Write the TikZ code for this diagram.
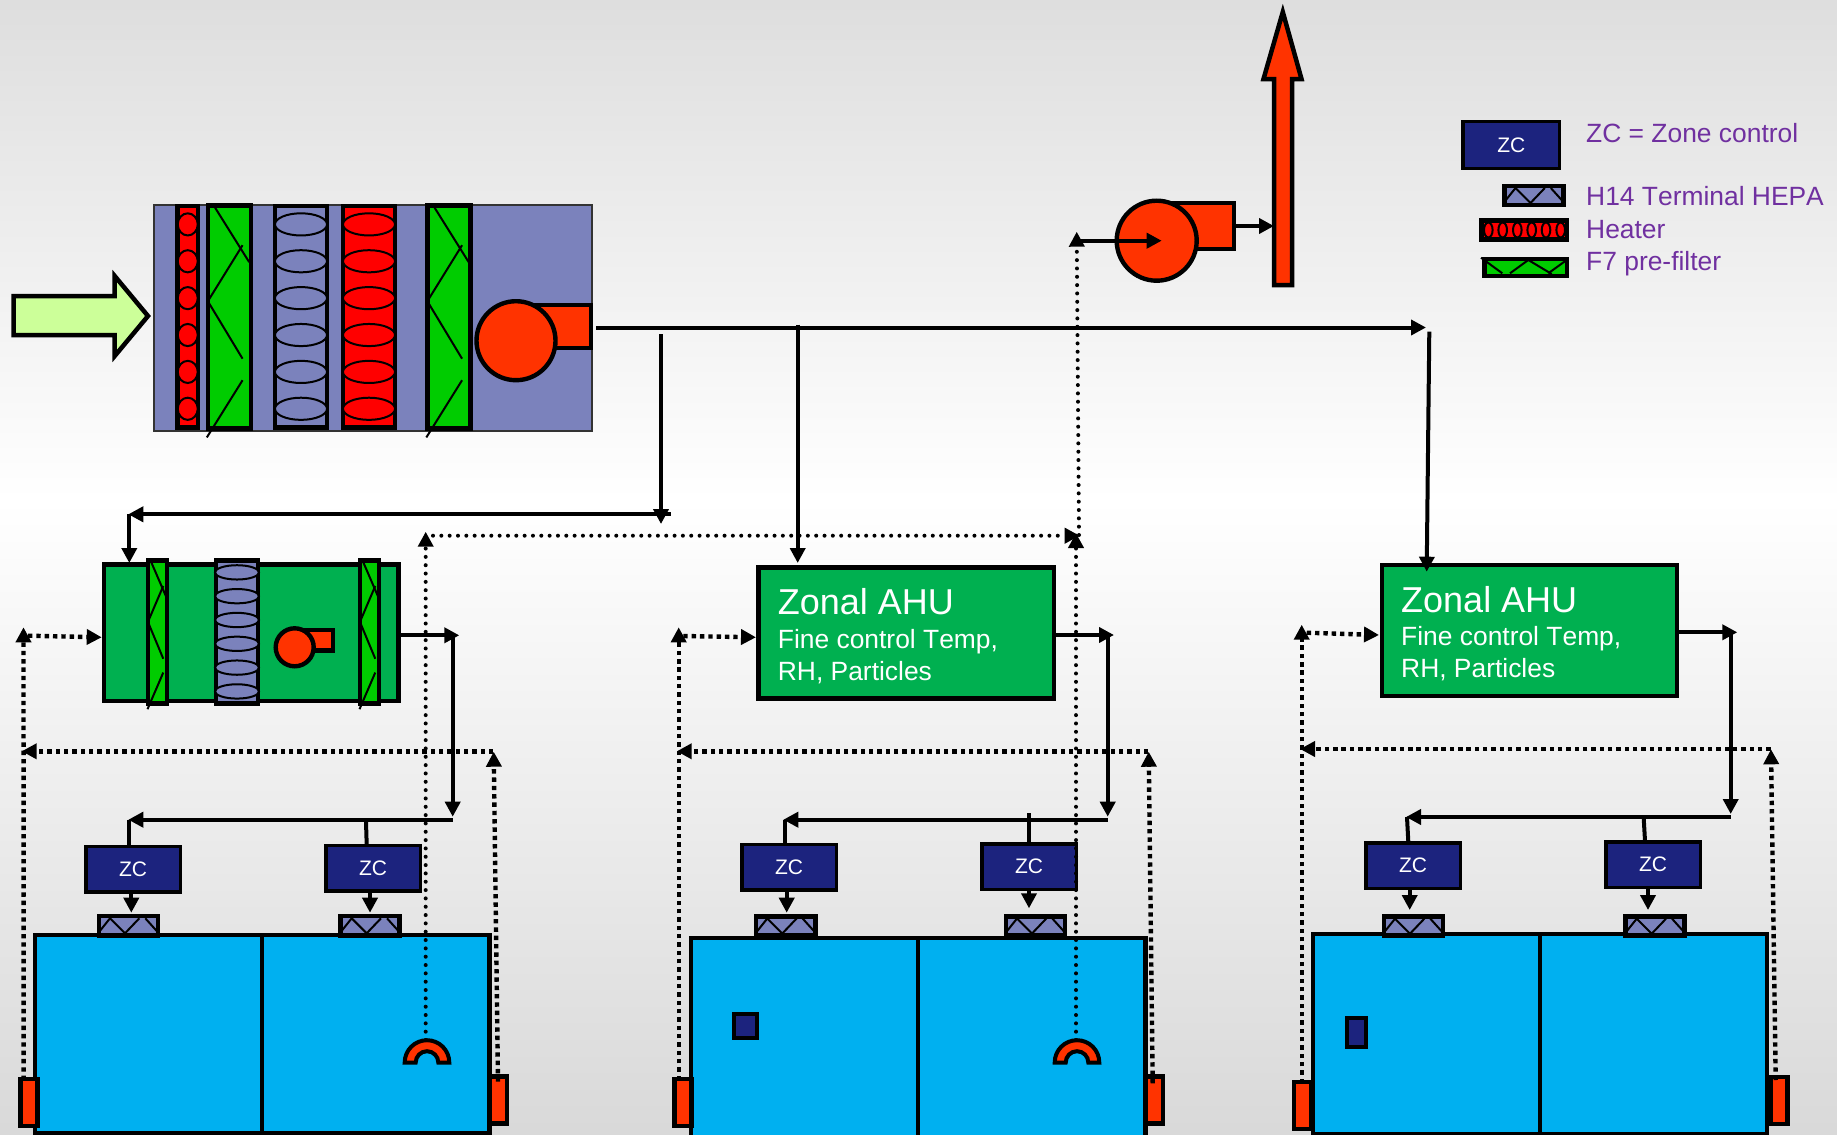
\documentclass[tikz,border=0pt]{standalone}
\usepackage{fontspec}
\setmainfont{Liberation Sans}[Kerning=Off]
\usepackage{xcolor}
\usetikzlibrary{arrows.meta,positioning,calc}

\definecolor{coilblue}{HTML}{7B82BC}
\definecolor{ahugreen}{HTML}{00B050}
\definecolor{filtgreen}{HTML}{00CC00}
\definecolor{roomblue}{HTML}{00B0F0}
\definecolor{fanred}{HTML}{FF3300}
\definecolor{zcnavy}{HTML}{1C237E}
\definecolor{inletgreen}{HTML}{CCFF99}
\definecolor{lgndpurple}{HTML}{7030A0}

% bank with zigzag pleats: x, y, width, height
\newcommand{\filterbank}[4]{%
  \begin{scope}[shift={(#1,#2)}]
    \draw[unit,fill=filtgreen] (0,0) rectangle (#3,#4);
    \begin{scope}[xscale=#3/44.3,yscale=#4/224.6]
      \draw[pleat] (5.9,0)--(42.4,57);
      \draw[pleat] (35.6,40)--(1.2,94.3);
      \draw[pleat] (1.2,98.6)--(35.6,154.3);
      \draw[pleat] (35.6,176)--(-1.2,233.6);
    \end{scope}
  \end{scope}}
% bank with six ellipses: x, y, width, height, fill, x radius
\newcommand{\coilbank}[6]{%
  \begin{scope}[shift={(#1,#2)}]
    \draw[unit,fill=#5] (0,0) rectangle (#3,#4);
    \foreach \i in {0,...,5}
      \draw[coilring,fill=#5] ({#3/2},{#4*(.083+.1665*\i)}) ellipse [x radius=#6,y radius={#4*.05}];
  \end{scope}}
% terminal filter: x, y of its top left corner
\newcommand{\hepaunit}[2]{%
  \begin{scope}[shift={(#1,#2)}]
    \draw[unit,fill=coilblue] (1.8,1.8) rectangle (61,21);
    \draw[pleat] (2.3,17.4)--(13,4)--(28,19)--(42.3,4);
    \draw[pleat] (48.3,4)--(60.3,17.3);
  \end{scope}}
% half ring sensor: centre x, base y
\newcommand{\halfring}[2]{%
  \draw[unit,fill=fanred,line width=4pt] (#1-22.3,#2)
    arc[start angle=180,end angle=0,radius=22.3pt]
    -- ++(-11,0) arc[start angle=0,end angle=180,radius=11.3pt] -- cycle;}
% zonal unit: name, x, y of its top left corner
\newcommand{\zonalahu}[3]{%
  \node[ahubox,anchor=north west] (#1) at (#2,#3) {};
  \node[ahuhead] (#1a) at ($(#2,#3)+(21.5,49.7)$) {Zonal AHU};
  \node[ahusub] (#1b) at ($(#2,#3)+(21.5,83.4)$) {Fine control Temp,};
  \node[ahusub] (#1c) at ($(#2,#3)+(21.5,115.4)$) {RH, Particles};}

\begin{document}
\begin{tikzpicture}[x=1pt,y=-1pt,
    unit/.style={draw=black,line width=4.5pt,line join=miter},
    pleat/.style={draw=black,line width=2pt},
    coilring/.style={draw=black,line width=2pt},
    pipeend/.style={line width=4pt},
    pipe/.style={pipeend,-{Triangle[length=15pt,width=15pt]}},
    sqdots/.style={line width=4.4pt,dash pattern=on 4.4pt off 3.93pt,-{Triangle[length=15pt,width=15pt]}},
    rounddots/.style={line width=4pt,line cap=round,dash pattern=on 0pt off 8.33pt,-{Triangle[length=15pt,width=15pt]}},
    zcbox/.style={draw=black,fill=zcnavy,line width=3.5pt,text=white,inner sep=0pt,
      minimum width=94.5pt,minimum height=45.5pt,font=\fontsize{21}{24}\selectfont},
    hall/.style={draw=black,fill=roomblue,line width=4.2pt,inner sep=0pt,anchor=north west},
    damper/.style={draw=black,fill=fanred,line width=4.2pt,inner sep=0pt,minimum width=17pt,minimum height=47pt},
    fanwheel/.style={circle,draw=black,fill=fanred,line width=4.4pt,inner sep=0pt},
    fanbody/.style={draw=black,fill=fanred,line width=4.4pt,inner sep=0pt},
    sensor/.style={draw=black,fill=zcnavy,line width=4pt,inner sep=0pt},
    ahubox/.style={draw=black,fill=ahugreen,line width=4.4pt,inner sep=0pt,minimum width=295.5pt,minimum height=131pt},
    ahuhead/.style={anchor=base west,inner sep=0pt,text=white,font=\fontsize{36}{40}\selectfont},
    ahusub/.style={anchor=base west,inner sep=0pt,text=white,font=\fontsize{26.4}{30}\selectfont},
    lgnd/.style={anchor=base west,inner sep=0pt,text=lgndpurple,font=\fontsize{26.4}{30}\selectfont}]
  \useasboundingbox (0,0) rectangle (1837,1135);
  \clip (0,0) rectangle (1837,1135);
  % page shading
  \shade[top color=black!13,bottom color=white] (0,0) rectangle (1837,500);
  \shade[top color=white,middle color=black!4,bottom color=black!15] (0,500) rectangle (1837,1135);

  % main supply unit
  \draw[fill=coilblue,draw=black!80,line width=2pt] (153.5,205) rectangle (592,431);
  \draw[unit,fill=inletgreen] (13.5,296)--(114.7,296)--(114.7,276)--(148,316)--(114.7,356)--(114.7,335)--(13.5,335)--cycle;
  \coilbank{177.5}{206}{20.5}{221.5}{red}{10}
  \filterbank{208}{205.5}{43}{223}
  \coilbank{275}{206}{52}{221.5}{coilblue}{26}
  \coilbank{343}{206}{52}{221.5}{red}{26}
  \filterbank{427.5}{205.5}{43}{223}
  \node[fanbody,minimum width=62pt,minimum height=43pt] (supplybox) at (560,326.5) {};
  \node[fanwheel,minimum size=79pt] (supplyfan) at (516,340.7) {};

  % exhaust
  \draw[unit,fill=fanred] (1274,285)--(1274,79)--(1263.5,79)--(1282.8,12)--(1301.5,79)--(1292,79)--(1292,285)--cycle;
  \node[fanbody,minimum width=66pt,minimum height=46pt] (exhaustbox) at (1201,226) {};
  \node[fanwheel,minimum size=80pt] (exhaustfan) at (1156.7,240.7) {};
  \coordinate (stackin) at (1274,226);
  \draw[pipe] (exhaustbox.east)--(stackin);

  % legend
  \node[zcbox,minimum width=96.5pt,minimum height=47pt] (lgndzc) at (1511.3,145) {ZC};
  \node[lgnd] (lgndzctxt) at (1586,142.5) {ZC = Zone control};
  \hepaunit{1502.5}{184}
  \node[lgnd] (lgndhepa) at (1586,205.5) {H14 Terminal HEPA};
  \draw[unit,fill=red,line width=4.6pt] (1481.5,220.5) rectangle (1567,239.5);
  \foreach \cx in {1488.3,1502.7,1517.3,1531.7,1546,1560.7}
    \draw[coilring,fill=red] (\cx,230) ellipse [x radius=4.3,y radius=7.5];
  \node[lgnd] (lgndheat) at (1586,238.2) {Heater};
  \draw[unit,fill=filtgreen] (1484.5,258.8) rectangle (1567,276.2);
  \draw[pleat] (1481,257.7)--(1502.3,273.3);
  \draw[pleat] (1510,273.3)--(1528.3,260)--(1551.7,274);
  \draw[pleat] (1548.3,273.3)--(1566.7,260);
  \node[lgnd] (lgndfilt) at (1586,270) {F7 pre-filter};

  % first group
  \node[hall,minimum width=227pt,minimum height=198pt] (hall1a) at (33,933) {};
  \node[hall,minimum width=227.9pt,minimum height=198pt] (hall1b) at (259.5,933) {};
  \node[draw=black,line width=4.4pt,fill=ahugreen,inner sep=0pt,minimum width=294.5pt,minimum height=136.3pt] (ahu1) at (251.3,632.8) {};
  \filterbank{148}{560.5}{19}{143}
  \coilbank{216}{560.5}{42}{143}{coilblue}{22}
  \filterbank{360}{560.5}{19}{143}
  \node[fanbody,minimum width=36pt,minimum height=20.5pt] (ahu1box) at (315,640.3) {};
  \node[fanwheel,minimum size=38pt] (ahu1fan) at (294.7,647.3) {};
  \node[zcbox] (zc1a) at (133,869.3) {ZC};
  \node[zcbox] (zc1b) at (373,868.3) {ZC};
  \hepaunit{97}{914.3}
  \hepaunit{338.7}{914.3}
  \node[damper] (damp1a) at (29,1102.5) {};
  \node[damper] (damp1b) at (498.3,1100) {};
  \halfring{427}{1062.5}

  % second group
  \node[hall,minimum width=226.8pt,minimum height=210pt] (hall2a) at (689.2,936) {};
  \node[hall,minimum width=227.9pt,minimum height=210pt] (hall2b) at (915.5,936) {};
  \zonalahu{ahu2}{756.2}{565.2}
  \node[zcbox] (zc2a) at (789,867.3) {ZC};
  \node[zcbox] (zc2b) at (1029,866.5) {ZC};
  \hepaunit{754.3}{914.5}
  \hepaunit{1004}{914.5}
  \node[damper] (damp2a) at (683,1102.5) {};
  \node[damper] (damp2b) at (1154.7,1100) {};
  \node[sensor,minimum width=23pt,minimum height=24.5pt] (sens2) at (745.3,1026) {};
  \halfring{1077}{1062.5}

  % third group
  \node[hall,minimum width=227.5pt,minimum height=200pt] (hall3a) at (1311,931.7) {};
  \node[hall,minimum width=226.9pt,minimum height=200pt] (hall3b) at (1538.2,931.7) {};
  \zonalahu{ahu3}{1379.5}{562.5}
  \node[zcbox] (zc3a) at (1413,865.5) {ZC};
  \node[zcbox] (zc3b) at (1653,864.5) {ZC};
  \hepaunit{1382}{914.7}
  \hepaunit{1623.7}{914.7}
  \node[damper] (damp3a) at (1302.5,1105.5) {};
  \node[damper] (damp3b) at (1779,1100.5) {};
  \node[sensor,minimum width=19.5pt,minimum height=29pt] (sens3) at (1356.7,1032.2) {};

  % supply ducts
  \coordinate (mainstart) at (596,327.5);
  \coordinate (mainend) at (1426,327.5);
  \coordinate (tap1) at (661,334);
  \coordinate (tap1end) at (661,524);
  \coordinate (hdr1r) at (670.7,514.3);
  \coordinate (hdr1l) at (128.3,514.3);
  \coordinate (hdr1d) at (129.3,514.3);
  \coordinate (tap2) at (797.7,324.5);
  \coordinate (tap2end) at (797.7,563);
  \coordinate (tap3) at (1429.3,331.6);
  \coordinate (tap3end) at (1426.7,571.7);
  \draw[pipe] (mainstart)--(mainend);
  \draw[pipe] (tap1)--(tap1end);
  \draw[pipe] (hdr1r)--(hdr1l);
  \draw[pipe] (hdr1d)--(129.3,563);
  \draw[pipe] (tap2)--(tap2end);
  \draw[pipe] (tap3)--(tap3end);

  % branch ducts, first group
  \coordinate (out1) at (459.3,635.3);
  \coordinate (riser1t) at (452.7,635.3);
  \coordinate (riser1b) at (452.7,816.7);
  \coordinate (branch1r) at (452.7,819.7);
  \coordinate (branch1l) at (128.3,819.7);
  \coordinate (drop1a) at (129.3,819.7);
  \coordinate (drop1b) at (366,821.7);
  \coordinate (hepa1a) at (131.3,912.7);
  \coordinate (hepa1b) at (370,912.7);
  \draw[pipe] (ahu1.east |- out1)--(out1);
  \draw[pipe] (riser1t)--(riser1b);
  \draw[pipe] (branch1r)--(branch1l);
  \draw[pipeend] (drop1a)--(zc1a.north -| drop1a);
  \draw[pipeend] (drop1b)--(366.7,845);
  \draw[pipe] (zc1a.south -| hepa1a)--(hepa1a);
  \draw[pipe] (zc1b.south -| hepa1b)--(hepa1b);

  % branch ducts, second group
  \coordinate (out2) at (1114,635);
  \coordinate (riser2t) at (1107.7,635);
  \coordinate (riser2b) at (1107.7,816.7);
  \coordinate (branch2r) at (1107.7,819.7);
  \coordinate (branch2l) at (783.3,819.7);
  \coordinate (drop2a) at (784.5,819.7);
  \coordinate (drop2b) at (1029,813.3);
  \coordinate (hepa2a) at (786.7,912.7);
  \coordinate (hepa2b) at (1029,908.3);
  \draw[pipe] (ahu2.east |- out2)--(out2);
  \draw[pipe] (riser2t)--(riser2b);
  \draw[pipe] (branch2r)--(branch2l);
  \draw[pipeend] (drop2a)--(zc2a.north -| drop2a);
  \draw[pipeend] (drop2b)--(zc2b.north);
  \draw[pipe] (zc2a.south -| hepa2a)--(hepa2a);
  \draw[pipe] (zc2b.south)--(hepa2b);

  % branch ducts, third group
  \coordinate (out3) at (1737.3,632.3);
  \coordinate (riser3t) at (1730.7,632.3);
  \coordinate (riser3b) at (1730.7,814);
  \coordinate (branch3r) at (1730.7,817);
  \coordinate (branch3l) at (1406,817);
  \coordinate (drop3a) at (1407,817);
  \coordinate (drop3b) at (1643.7,818.3);
  \coordinate (hepa3a) at (1409.7,910);
  \coordinate (hepa3b) at (1648,910);
  \draw[pipe] (ahu3.east |- out3)--(out3);
  \draw[pipe] (riser3t)--(riser3b);
  \draw[pipe] (branch3r)--(branch3l);
  \draw[pipeend] (drop3a)--(1408.3,841.7);
  \draw[pipeend] (drop3b)--(1645,840.7);
  \draw[pipe] (zc3a.south -| hepa3a)--(hepa3a);
  \draw[pipe] (zc3b.south -| hepa3b)--(hepa3b);

  % return air
  \coordinate (ret1) at (425.7,1040);
  \coordinate (ret1top) at (425.7,531.7);
  \coordinate (retrow) at (433,535.7);
  \coordinate (retrowend) at (1079.7,535.7);
  \coordinate (ret2) at (1076,1040);
  \coordinate (ret2top) at (1076,533);
  \coordinate (retup) at (1079,535);
  \coordinate (retuptop) at (1076.7,231.7);
  \coordinate (retfan) at (1080,240.7);
  \coordinate (retfanend) at (1161.7,240.7);
  \draw[rounddots] (ret1)--(ret1top);
  \draw[rounddots] (retrow)--(retrowend);
  \draw[rounddots] (ret2)--(ret2top);
  \draw[rounddots] (retup)--(retuptop);
  \draw[pipe] (retfan)--(retfanend);

  % pressure lines, first group
  \coordinate (press1a) at (23.7,1080);
  \coordinate (press1at) at (23.5,627.3);
  \coordinate (press1c) at (28,635.7);
  \coordinate (press1d) at (101.7,637.3);
  \coordinate (press1r) at (493.3,751.3);
  \coordinate (press1l) at (21.7,751.3);
  \coordinate (press1b) at (498,1081.7);
  \coordinate (press1bt) at (493.7,751.7);
  \draw[sqdots] (press1a)--(press1at);
  \draw[sqdots] (press1c)--(press1d);
  \draw[sqdots] (press1r)--(press1l);
  \draw[sqdots] (press1b)--(press1bt);

  % pressure lines, second group
  \coordinate (press2a) at (678.7,1080);
  \coordinate (press2at) at (678.7,627.3);
  \coordinate (press2c) at (683.3,636);
  \coordinate (press2d) at (756,637.3);
  \coordinate (press2r) at (1148.3,751.3);
  \coordinate (press2l) at (676.7,751.3);
  \coordinate (press2b) at (1152.7,1083.3);
  \coordinate (press2bt) at (1148.7,751.7);
  \draw[sqdots] (press2a)--(press2at);
  \draw[sqdots] (press2c)--(press2d);
  \draw[sqdots] (press2r)--(press2l);
  \draw[sqdots] (press2b)--(press2bt);

  % pressure lines, third group
  \coordinate (press3a) at (1301.7,1083);
  \coordinate (press3at) at (1301.7,624.7);
  \coordinate (press3c) at (1306.7,632.7);
  \coordinate (press3d) at (1379,635);
  \coordinate (press3r) at (1770.7,749);
  \coordinate (press3l) at (1300,749);
  \coordinate (press3b) at (1775.7,1080);
  \coordinate (press3bt) at (1771,749.3);
  \draw[sqdots] (press3a)--(press3at);
  \draw[sqdots] (press3c)--(press3d);
  \draw[sqdots] (press3r)--(press3l);
  \draw[sqdots] (press3b)--(press3bt);
\end{tikzpicture}
\end{document}
